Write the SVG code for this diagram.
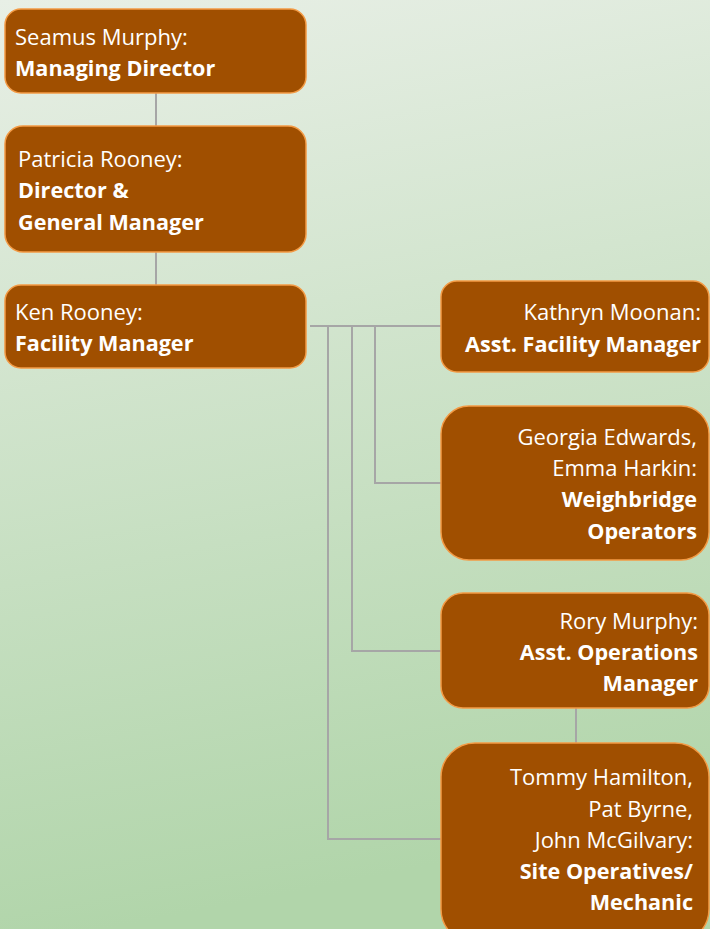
<svg xmlns="http://www.w3.org/2000/svg" width="710" height="929" viewBox="0 0 710 929">
<defs>
<linearGradient id="bg" x1="0" y1="0" x2="0.15" y2="1">
<stop offset="0" stop-color="#e8efe6"/>
<stop offset="1" stop-color="#b1d5aa"/>
</linearGradient>
<style>
.box{fill:#a04f00;stroke:#f39a44;stroke-width:1.5}
.t{font-family:"Open Sans","Liberation Sans",sans-serif;font-size:22px;fill:#ffffff}
.b{font-weight:bold;font-size:21.6px}
.r{text-anchor:end}
.c{fill:none;stroke:#a6a6a6;stroke-width:2}
</style>
</defs>
<rect width="710" height="929" fill="url(#bg)"/>
<g id="connectors">
<path class="c" d="M156,93V126"/>
<path class="c" d="M156,252V285"/>
<path class="c" d="M310,326H441"/>
<path class="c" d="M375,326V483H441"/>
<path class="c" d="M352,326V651H441"/>
<path class="c" d="M328,326V839H441"/>
<path class="c" d="M576,708V743"/>
</g>
<g id="n1">
<rect class="box" x="5" y="9" width="301" height="84" rx="16"/>
<text class="t" x="15" y="45">Seamus Murphy:</text>
<text class="t b" x="15" y="76">Managing Director</text>
</g>
<g id="n2">
<rect class="box" x="5" y="126" width="301" height="126" rx="18"/>
<text class="t" x="18" y="167">Patricia Rooney:</text>
<text class="t b" x="18" y="198">Director &amp;</text>
<text class="t b" x="18" y="230">General Manager</text>
</g>
<g id="n3">
<rect class="box" x="5" y="285" width="301" height="83" rx="16"/>
<text class="t" x="15" y="320">Ken Rooney:</text>
<text class="t b" x="15" y="351">Facility Manager</text>
</g>
<g id="n4">
<rect class="box" x="441" y="281" width="268" height="91" rx="16"/>
<text class="t r" x="701" y="320">Kathryn Moonan:</text>
<text class="t b r" x="701" y="352">Asst. Facility Manager</text>
</g>
<g id="n5">
<rect class="box" x="441" y="406" width="268" height="154" rx="28"/>
<text class="t r" x="697" y="445">Georgia Edwards,</text>
<text class="t r" x="697" y="476">Emma Harkin:</text>
<text class="t b r" x="697" y="507">Weighbridge</text>
<text class="t b r" x="697" y="539">Operators</text>
</g>
<g id="n6">
<rect class="box" x="441" y="593" width="268" height="115" rx="22"/>
<text class="t r" x="698" y="629">Rory Murphy:</text>
<text class="t b r" x="698" y="660">Asst. Operations</text>
<text class="t b r" x="698" y="691">Manager</text>
</g>
<g id="n7">
<rect class="box" x="441" y="743" width="268" height="200" rx="34"/>
<text class="t r" x="693" y="785">Tommy Hamilton,</text>
<text class="t r" x="693" y="817">Pat Byrne,</text>
<text class="t r" x="693" y="848">John McGilvary:</text>
<text class="t b r" x="693" y="879">Site Operatives/</text>
<text class="t b r" x="693" y="910">Mechanic</text>
</g>
</svg>
